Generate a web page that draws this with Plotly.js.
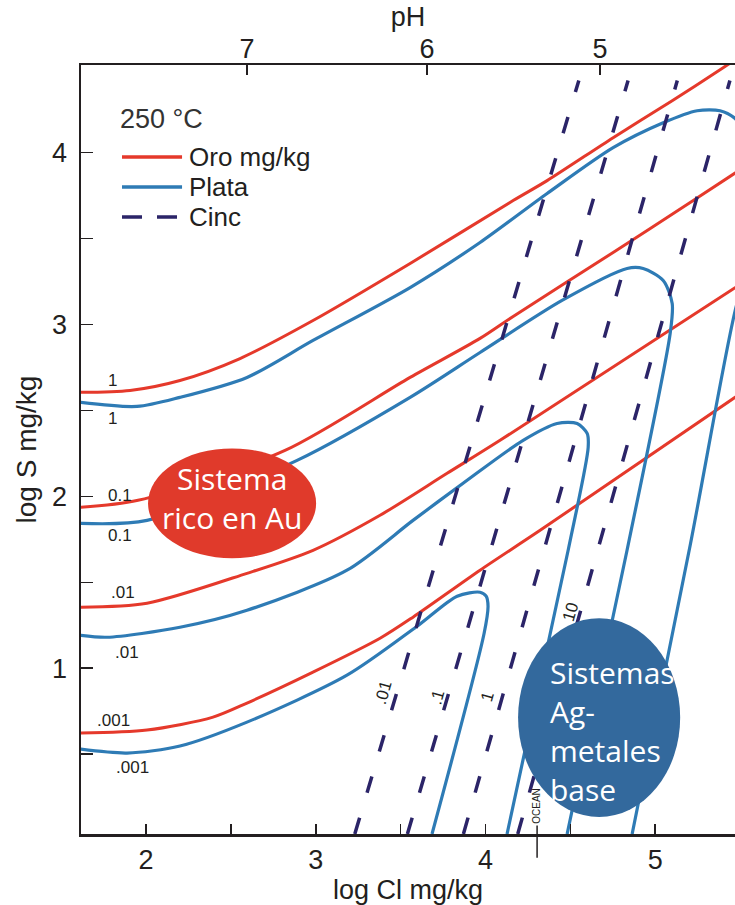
<!DOCTYPE html>
<html><head><meta charset="utf-8">
<script src="https://cdn.plot.ly/plotly-3.0.1.min.js"></script>
<style>html,body{margin:0;padding:0;background:#fff}#chart{width:735px;height:905px}</style>
</head><body><div id="chart"></div>
<script>
// ---- Oro (gold) isopleths, mg/kg : log Cl (x) vs log S (y)
const oroLabels = ["1", "0.1", ".01", ".001"];
const oro1X = [1.617, 1.906, 2.200, 2.554, 2.984, 3.556, 4.163, 4.363, 4.752, 5.100, 5.400, 5.500];
const oro1Y = [2.605, 2.616, 2.674, 2.802, 3.023, 3.355, 3.721, 3.837, 4.087, 4.302, 4.494, 4.560];
const oro2X = [1.611, 1.953, 2.819, 3.556, 3.968, 4.163, 4.752, 5.224, 5.500];
const oro2Y = [1.936, 1.977, 2.267, 2.692, 2.919, 3.047, 3.419, 3.721, 3.900];
const oro3X = [1.611, 2.006, 2.595, 2.984, 3.379, 3.774, 4.086, 5.500];
const oro3Y = [1.355, 1.378, 1.552, 1.686, 1.890, 2.134, 2.326, 3.233];
const oro4X = [1.611, 2.006, 2.395, 2.595, 2.984, 3.379, 3.573, 3.968, 4.322, 5.500];
const oro4Y = [0.622, 0.640, 0.715, 0.797, 0.977, 1.174, 1.297, 1.570, 1.802, 2.596];

// ---- Plata (silver) isopleths
const plataLabels = ["1", "0.1", ".01", ".001"];
const plata1X = [1.611, 1.947, 2.200, 2.595, 2.984, 3.556, 3.968, 4.363, 4.752, 5.047, 5.247, 5.382, 5.471, 5.559, 5.600, 5.589, 5.471, 5.206, 4.864];
const plata1Y = [2.547, 2.523, 2.576, 2.692, 2.907, 3.215, 3.477, 3.762, 4.029, 4.174, 4.244, 4.244, 4.198, 4.070, 3.837, 3.488, 3.081, 1.715, 0.035];
const plata2X = [1.611, 2.006, 2.890, 3.556, 3.968, 4.451, 4.834, 4.929, 5.047, 5.100, 5.088, 4.834, 4.481];
const plata2Y = [1.843, 1.860, 2.209, 2.576, 2.837, 3.140, 3.326, 3.326, 3.256, 3.122, 2.948, 1.686, 0.035];
const plata3X = [1.611, 1.770, 2.200, 2.595, 3.184, 3.573, 3.868, 4.222, 4.422, 4.540, 4.599, 4.605, 4.487, 4.127];
const plata3Y = [1.192, 1.180, 1.238, 1.337, 1.570, 1.860, 2.076, 2.326, 2.424, 2.424, 2.366, 2.285, 1.686, 0.035];
const plata4X = [1.611, 1.888, 2.200, 2.595, 3.184, 3.597, 3.833, 3.968, 4.004, 4.015, 3.992, 3.685];
const plata4Y = [0.529, 0.506, 0.547, 0.686, 0.959, 1.244, 1.419, 1.442, 1.419, 1.360, 1.203, 0.035];

// ---- Cinc (zinc) isopleths: straight lines, log Cl at bottom / top of the diagram
const cincLabels = [".01", ".1", "1", "10"];
const cincBottomX = [3.23, 3.54, 3.87, 4.19];
const cincTopX = [4.55, 4.84, 5.13, 5.44];
const cincY = [0.035, 4.42];

// ---- axes
const clTicks = [2, 2.5, 3, 3.5, 4, 4.5, 5];
const clTickText = ["2", "", "3", "", "4", "", "5"];
const sTicks = [0.5, 1, 1.5, 2, 2.5, 3, 3.5, 4];
const sTickText = ["", "1", "", "2", "", "3", "", "4"];
const pHPos = [2.595, 3.656, 4.675];
const pHText = ["7", "6", "5"];
const oceanCl = 4.304;

// ---- legend
const legendTitle = "250 °C";
const legendNames = ["Oro mg/kg", "Plata", "Cinc"];

const RED = "#e5392b", BLUE = "#2e7bb5", NAVY = "#2b2468", INK = "#231f20";
const AXF = "'Liberation Sans Narrow', 'Liberation Sans', Arial, sans-serif";
const TXF = "'Open Sans', 'Noto Sans', sans-serif";
const LGF = "'Liberation Sans', Arial, sans-serif";
const redLine = {color: RED, width: 3, shape: "spline", smoothing: 0.8};
const blueLine = {color: BLUE, width: 3.2, shape: "spline", smoothing: 0.8};
const cincLine = {color: NAVY, width: 3.5, dash: "17px,26px"};

const traces = [];
[[oro1X, oro1Y], [oro2X, oro2Y], [oro3X, oro3Y], [oro4X, oro4Y]].forEach((s, i) => {
  traces.push({x: s[0], y: s[1], mode: "lines", name: legendNames[0] + " " + oroLabels[i],
    hoverinfo: "skip", line: redLine});
});
[[plata1X, plata1Y], [plata2X, plata2Y], [plata3X, plata3Y], [plata4X, plata4Y]].forEach((s, i) => {
  traces.push({x: s[0], y: s[1], mode: "lines", name: legendNames[1] + " " + plataLabels[i],
    hoverinfo: "skip", line: blueLine});
});
cincLabels.forEach((lab, i) => {
  traces.push({x: [cincBottomX[i], cincTopX[i]], y: cincY, mode: "lines", name: legendNames[2] + " " + lab,
    hoverinfo: "skip", line: cincLine});
});
// pH axis carrier
traces.push({x: pHPos, y: pHPos.map(() => 4.4), xaxis: "x2", mode: "markers",
  marker: {opacity: 0}, hoverinfo: "skip"});

const small = {family: "'Liberation Sans', Arial, sans-serif", size: 17, color: INK};
const ann = [];
const oroLabPos = [[1.80, 2.674], [1.847, 2.006], [1.864, 1.442], [1.806, 0.698]];
const plataLabPos = [[1.80, 2.453], [1.847, 1.773], [1.888, 1.093], [1.918, 0.424]];
oroLabels.forEach((t, i) => ann.push({x: oroLabPos[i][0], y: oroLabPos[i][1], text: t, showarrow: false, font: small}));
plataLabels.forEach((t, i) => ann.push({x: plataLabPos[i][0], y: plataLabPos[i][1], text: t, showarrow: false, font: small}));
const cincLabPos = [[3.397, 0.86], [3.715, 0.831], [4.009, 0.831], [4.499, 1.326]];
cincLabels.forEach((t, i) => ann.push({x: cincLabPos[i][0], y: cincLabPos[i][1], text: t, showarrow: false, textangle: -74, font: small}));
ann.push({x: oceanCl, y: 0.20, text: "OCEAN", showarrow: false, textangle: -90,
  font: {family: "'Liberation Sans', Arial, sans-serif", size: 10, color: INK}});
ann.push({x: 2.507, y: 1.99, text: "Sistema<br>rico en Au", showarrow: false,
  font: {family: TXF, size: 30, color: "#ffffff"}});
ann.push({x: 4.369, y: 0.634, xanchor: "left", align: "left", text: "Sistemas<br>Ag-<br>metales<br>base", showarrow: false,
  font: {family: TXF, size: 30, color: "#ffffff"}});
// legend (drawn manually to match the original key)
const legFont = {family: LGF, size: 26, color: INK};
ann.push({xref: "paper", yref: "paper", x: 0.0566, y: 0.9298, xanchor: "left", yanchor: "middle",
  text: legendTitle, showarrow: false, font: {family: LGF, size: 27, color: "#333333"}});
const legRowY = [0.8804, 0.8413, 0.8023];
legendNames.forEach((t, i) => ann.push({xref: "paper", yref: "paper", x: 0.1625, y: legRowY[i],
  xanchor: "left", yanchor: "middle", text: t, showarrow: false, font: legFont}));

const legLines = [
  {color: RED, width: 3.5},
  {color: BLUE, width: 3.5},
  {color: NAVY, width: 3.5, dash: "20px,15px"}
].map((ln, i) => ({type: "line", xref: "paper", yref: "paper", x0: 0.0627, x1: 0.1545,
  y0: legRowY[i], y1: legRowY[i], line: ln}));

const layout = {
  width: 735, height: 905,
  margin: {l: 81, r: 0, t: 65, b: 71},
  paper_bgcolor: "#ffffff", plot_bgcolor: "#ffffff",
  showlegend: false,
  xaxis: {range: [1.617, 5.47], showgrid: false, zeroline: false, showline: true, linewidth: 2.5, linecolor: INK,
    ticks: "inside", ticklen: 10, tickwidth: 1.5, tickcolor: INK, tickvals: clTicks, ticktext: clTickText,
    ticklabelstandoff: 0,
    tickfont: {family: AXF, size: 27, color: INK},
    title: {text: "log Cl mg/kg", standoff: 2, font: {family: AXF, size: 27, color: INK}}},
  xaxis2: {overlaying: "x", side: "top", range: [1.617, 5.47], showgrid: false, zeroline: false, showline: true,
    linewidth: 2.5, linecolor: INK, ticks: "inside", ticklen: 10, tickwidth: 1.5, tickcolor: INK,
    ticklabelstandoff: -6,
    tickvals: pHPos, ticktext: pHText, tickfont: {family: AXF, size: 27, color: INK},
    title: {text: "pH", standoff: 0, font: {family: AXF, size: 27, color: INK}}},
  yaxis: {range: [0.035, 4.51], showgrid: false, zeroline: false, showline: true, linewidth: 2.5, linecolor: INK,
    ticks: "inside", ticklen: 12, tickwidth: 1.5, tickcolor: INK, tickvals: sTicks, ticktext: sTickText,
    ticklabelstandoff: 6,
    tickfont: {family: AXF, size: 27, color: INK},
    title: {text: "log S mg/kg", standoff: 8, font: {family: AXF, size: 28, color: INK}}},
  shapes: [
    {type: "circle", xref: "x", yref: "y", x0: 2.012, x1: 3.002, y0: 1.640, y1: 2.279,
      fillcolor: "#e03a2b", line: {width: 0}, layer: "above"},
    {type: "circle", xref: "x", yref: "y", x0: 4.192, x1: 5.147, y0: 0.134, y1: 1.291,
      fillcolor: "#33699d", line: {width: 0}, layer: "above"},
    {type: "line", xref: "x", yref: "paper", x0: oceanCl, x1: oceanCl, y0: -0.031, y1: 0.011,
      line: {color: INK, width: 1.5}}
  ].concat(legLines),
  annotations: ann
};

Plotly.newPlot("chart", traces, layout, {staticPlot: true, displayModeBar: false});
</script>
</body></html>
